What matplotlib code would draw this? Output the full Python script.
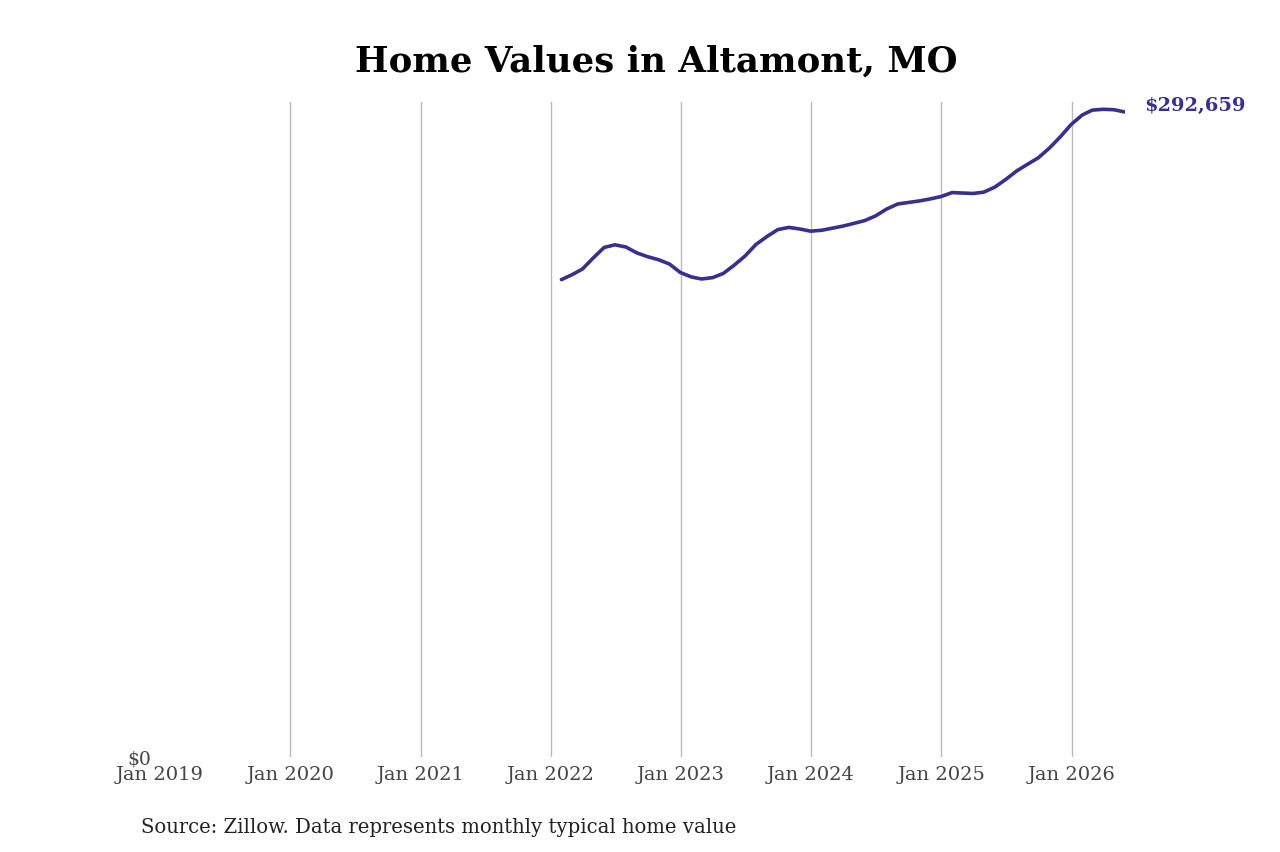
import pandas as pd
import numpy as np
import matplotlib
matplotlib.use('Agg')
import matplotlib.pyplot as plt

### Data: monthly typical home value
dates = pd.date_range('2022-01-31', '2026-05-31', freq='ME')
values = [216600, 218700, 221400, 226400, 231200, 232400, 231400, 228700, 227000, 225600,
          223700, 219800, 217800, 216900, 217500, 219400, 223200, 227300, 232600, 236200,
          239300, 240300, 239600, 238600, 239000, 239900, 240900, 242100, 243400, 245500,
          248600, 250900, 251600, 252300, 253200, 254300, 256100, 255900, 255700, 256300,
          258600, 262000, 265900, 269000, 271900, 276300, 281300, 287000, 291300, 293500,
          293900, 293700, 292659]
tick_years = list(range(2019, 2027))
title = 'Home Values in Altamont, MO'
source = 'Source: Zillow. Data represents monthly typical home value'

line_color = '#38308f'
plt.rcParams['font.family'] = ['DejaVu Serif']

fig = plt.figure(figsize=(12.8, 8.53), dpi=100)
ax = fig.add_axes([160/1280, 1 - 758/853, (1125 - 160)/1280, (758 - 103)/853])

ax.plot(dates, values, color=line_color, linewidth=2.6, solid_capstyle='round')

ax.set_xlim(pd.Timestamp('2019-01-01'), dates[-1])
ax.set_ylim(0, 297200)

ticks = [pd.Timestamp(f'{y}-01-01') for y in tick_years]
ax.set_xticks(ticks)
ax.set_xticklabels([f'Jan {y}' for y in tick_years])
ax.set_yticks([0])
ax.set_yticklabels(['$0'])
ax.tick_params(axis='x', length=0, pad=6, labelsize=14, colors='#444444')
ax.tick_params(axis='y', length=0, pad=6, labelsize=13.5, colors='#444444')

for t in ticks[1:]:
    ax.axvline(t, color='#bbbbbb', linewidth=1, zorder=0)

for s in ax.spines.values():
    s.set_visible(False)

ax.annotate(f'${values[-1]:,}', xy=(dates[-1], values[-1]), xytext=(14, 5),
            textcoords='offset points', color=line_color, fontsize=14,
            fontweight='bold', va='center', ha='left', annotation_clip=False)

fig.text(656/1280, 1 - 62/853, title, ha='center', va='center', fontsize=25.6, fontweight='bold')
fig.text(141/1280, 1 - 828/853, source, ha='left', va='center', fontsize=14.15, color='#222222')

fig.savefig('out.png', dpi=100)
